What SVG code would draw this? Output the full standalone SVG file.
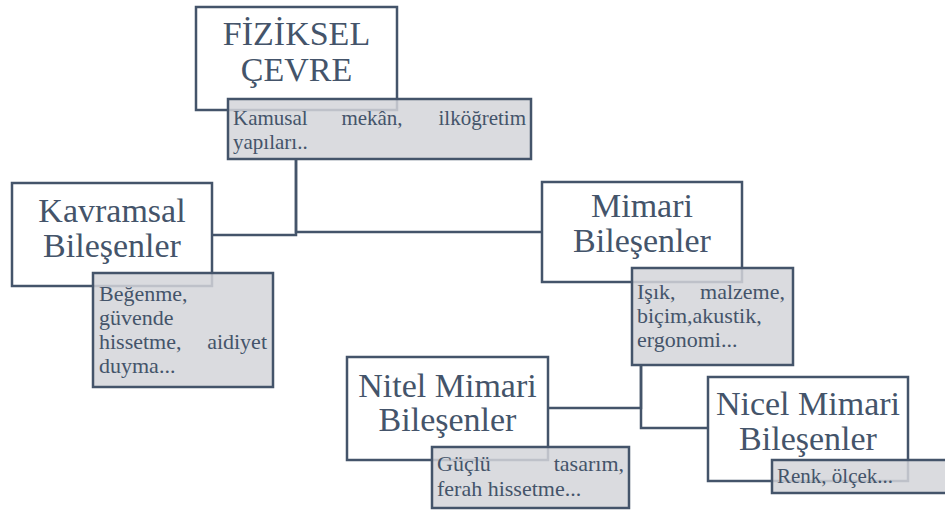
<svg xmlns="http://www.w3.org/2000/svg" width="945" height="510" viewBox="0 0 945 510" font-family="'Liberation Serif', 'Times New Roman', serif">
<style>
.box{fill:#ffffff;stroke:#44546a;stroke-width:2.5}
.note{fill:#d3d5d9;fill-opacity:0.85;stroke:#44546a;stroke-width:2.5}
.title{font-size:34px;fill:#44546a;text-anchor:middle}
.txt{font-size:22px;fill:#44546a}
.sm{font-size:21px}
.end{text-anchor:end}
.mid{text-anchor:middle}
.conn{fill:none;stroke:#44546a;stroke-width:2.5}
</style>
<rect width="945" height="510" fill="#ffffff"/>
<g id="connectors">
<path class="conn" d="M212,235 H296 V159"/>
<path class="conn" d="M296,159 V232 H542"/>
<path class="conn" d="M548,408 H641 V365"/>
<path class="conn" d="M641,365 V428 H708"/>
</g>
<g id="fiziksel">
<rect class="box" x="196" y="7" width="201" height="103"/>
<text class="title" x="296.5" y="45">FİZİKSEL</text>
<text class="title" x="296.5" y="81">ÇEVRE</text>
<rect class="note" x="228" y="99" width="303" height="60"/>
<text class="txt sm" x="233" y="125">Kamusal</text>
<text class="txt sm mid" x="372" y="125">mekân,</text>
<text class="txt sm end" x="526" y="125">ilköğretim</text>
<text class="txt sm" x="233" y="149">yapıları..</text>
</g>
<g id="kavramsal">
<rect class="box" x="12" y="183" width="200" height="103"/>
<text class="title" x="112" y="222">Kavramsal</text>
<text class="title" x="112" y="257">Bileşenler</text>
<rect class="note" x="93" y="273" width="180" height="114"/>
<text class="txt" x="99" y="301">Beğenme,</text>
<text class="txt" x="99" y="325">güvende</text>
<text class="txt" x="99" y="349">hissetme,</text>
<text class="txt end" x="267" y="349">aidiyet</text>
<text class="txt" x="99" y="373">duyma...</text>
</g>
<g id="mimari">
<rect class="box" x="542" y="182" width="200" height="100"/>
<text class="title" x="642" y="217">Mimari</text>
<text class="title" x="642" y="252">Bileşenler</text>
<rect class="note" x="632" y="268" width="161" height="97"/>
<text class="txt" x="637" y="299">Işık,</text>
<text class="txt end" x="785" y="299">malzeme,</text>
<text class="txt" x="637" y="323">biçim,akustik,</text>
<text class="txt" x="637" y="347">ergonomi...</text>
</g>
<g id="nitel">
<rect class="box" x="347" y="357" width="201" height="103"/>
<text class="title" x="447.5" y="397">Nitel Mimari</text>
<text class="title" x="447.5" y="431">Bileşenler</text>
<rect class="note" x="432" y="447" width="197" height="61"/>
<text class="txt" x="437" y="471">Güçlü</text>
<text class="txt end" x="624" y="471">tasarım,</text>
<text class="txt" x="437" y="496">ferah hissetme...</text>
</g>
<g id="nicel">
<rect class="box" x="708" y="377" width="200" height="104"/>
<text class="title" x="808" y="415">Nicel Mimari</text>
<text class="title" x="808" y="450">Bileşenler</text>
<rect class="note" x="772" y="460" width="180" height="33"/>
<text class="txt sm" x="777" y="483">Renk, ölçek...</text>
</g>
</svg>
